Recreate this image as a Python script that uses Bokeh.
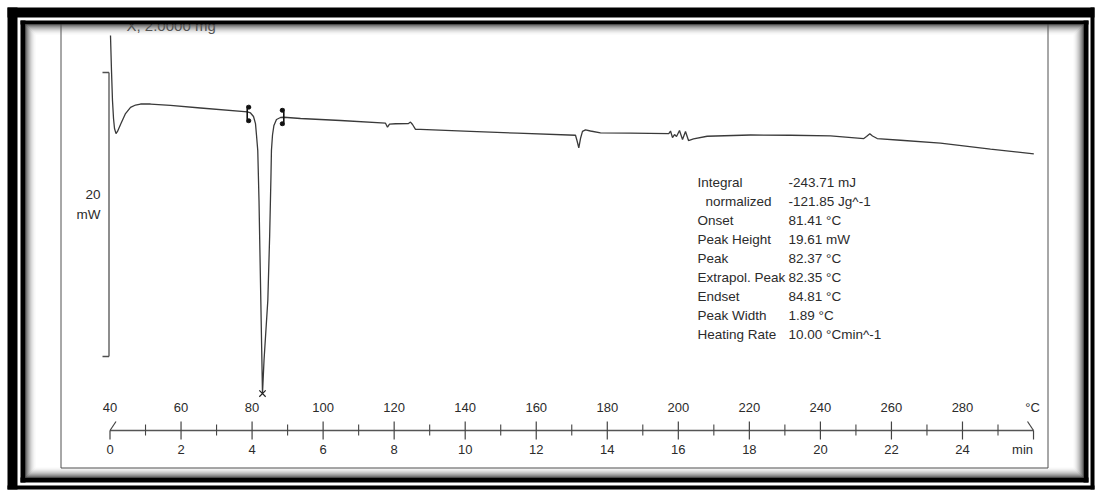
from bokeh.plotting import figure
from bokeh.models import Range1d
from bokeh.core.properties import value
from bokeh.embed import file_html
from bokeh.resources import INLINE

# ---------------- data ----------------
temp_c = [40.14, 40.42, 40.70, 40.99, 41.27, 41.69, 42.11, 42.96, 44.37, 45.78,
          47.19, 48.59, 51.40, 57.03, 65.48, 78.71, 79.56, 80.40, 80.96, 81.24,
          81.60, 81.95, 82.20, 82.46, 82.70, 82.93, 83.36, 84.43, 84.95, 85.30,
          85.45, 85.75, 86.15, 86.87, 88.00, 88.93, 93.64, 104.90, 117.56, 118.12,
          118.69, 120.38, 124.04, 124.60, 125.17, 126.01, 127.42, 141.50, 154.64, 171.05,
          171.47, 171.98, 172.46, 173.02, 173.86, 175.27, 178.09, 186.54, 197.32, 197.80,
          198.36, 198.93, 199.49, 200.33, 201.18, 202.02, 202.87, 204.28, 208.13, 220.32,
          231.58, 242.84, 252.22, 252.98, 253.91, 254.67, 255.99, 262.55, 273.81, 287.89,
          300.08]
heat_flow_mw = [22.61, 20.14, 18.03, 16.76, 16.06, 15.70, 15.85, 16.34, 17.11, 17.54,
                17.71, 17.78, 17.78, 17.68, 17.50, 17.22, 17.15, 16.90, 16.40, 15.60,
                14.51, 10.99, 7.50, 3.94, 0.60, -2.61, -0.28, 3.94, 8.50, 12.50,
                14.51, 15.60, 16.27, 16.69, 16.83, 16.85, 16.76, 16.62, 16.43, 16.15,
                16.37, 16.39, 16.41, 16.51, 16.34, 15.99, 15.99, 15.85, 15.73, 15.58,
                15.21, 14.70, 15.35, 15.85, 15.96, 15.88, 15.75, 15.73, 15.70, 15.88,
                15.42, 15.63, 15.49, 15.92, 15.28, 15.85, 15.21, 15.32, 15.51, 15.60,
                15.58, 15.53, 15.35, 15.49, 15.68, 15.53, 15.35, 15.23, 15.02, 14.61,
                14.27]

peak_temp = 82.93
peak_mw = -2.61
limit_temps = [78.63, 88.93]
limit_low = [16.48, 16.27]
limit_high = [17.68, 17.46]

major_temps = [40, 60, 80, 100, 120, 140, 160, 180, 200, 220, 240, 260, 280]
minor_temps = [50, 70, 90, 110, 130, 150, 170, 190, 210, 230, 250, 270, 290]
temp_labels = ["40", "60", "80", "100", "120", "140", "160", "180", "200", "220", "240", "260", "280"]
minute_labels = ["0", "2", "4", "6", "8", "10", "12", "14", "16", "18", "20", "22", "24"]
axis_start, axis_end = 40, 300
scale_bar = [0, 20]
scale_labels = ["20", "mW"]
sample_label = "X, 2.0000 mg"

stat_names = ["Integral", "normalized", "Onset", "Peak Height", "Peak",
              "Extrapol. Peak", "Endset", "Peak Width", "Heating Rate"]
stat_values = ["-243.71 mJ", "-121.85 Jg^-1", "81.41 °C", "19.61 mW", "82.37 °C",
               "82.35 °C", "84.81 °C", "1.89 °C", "10.00 °Cmin^-1"]

# ---------------- page geometry ----------------
W, H = 1096, 491
XPX, YPX = 3.552, 14.2          # pixels per °C, pixels per mW
x0 = 40 - 109.5 / XPX
x1 = x0 + W / XPX
y1 = 356 / YPX
y0 = y1 - H / YPX


def X(px):
    return x0 + px / XPX


def Y(py):
    return y1 - py / YPX


FONT = value("Liberation Sans")
TXT = "#2b2b2b"

p = figure(width=W, height=H, x_range=Range1d(x0, x1), y_range=Range1d(y0, y1),
           output_backend="svg", toolbar_location=None, min_border=0,
           x_axis_type=None, y_axis_type=None, outline_line_color=None,
           background_fill_color="white", border_fill_color="white")
p.grid.visible = False

# bevel gradient inside the inner black line
shades = ["#333333", "#555555", "#747474", "#909090", "#a9a9a9",
          "#bfbfbf", "#d2d2d2", "#e2e2e2", "#eeeeee", "#f8f8f8"]
for i, c in enumerate(shades):
    p.quad(left=X(25 + i + 0.5), right=X(1083 - i - 0.5), top=Y(24 + i + 0.5),
           bottom=Y(477 - i - 0.5), fill_alpha=0, line_color=c, line_width=1)

# inner panel border
p.segment(x0=[X(60.5), X(1047.5), X(60.5)], y0=[Y(24), Y(24), Y(467.5)],
          x1=[X(60.5), X(1047.5), X(1047.5)], y1=[Y(467.5), Y(467.5), Y(467.5)],
          line_color="#505050", line_width=1)

# curve
p.line(temp_c, heat_flow_mw, line_color="#3a3a3a", line_width=1.3)

# peak marker
p.scatter([peak_temp], [peak_mw], marker="x", size=9, line_color="#222222", line_width=1.2)

# integration limits
p.segment(x0=limit_temps, y0=limit_low, x1=limit_temps, y1=limit_high,
          line_color="#111111", line_width=1.6)
dx = 1.6 / XPX
p.scatter([limit_temps[0] + dx, limit_temps[0] + dx, limit_temps[1] - dx, limit_temps[1] - dx],
          [limit_high[0] - 0.12, limit_low[0] + 0.12, limit_high[1] - 0.12, limit_low[1] + 0.12],
          marker="circle", size=4, fill_color="#111111", line_color="#111111")

# scale bar (20 mW)
bar_x = X(108.5)
p.segment(x0=[bar_x, X(102), X(102)], y0=[scale_bar[0], scale_bar[1], scale_bar[0]],
          x1=[bar_x, bar_x, bar_x], y1=[scale_bar[1], scale_bar[1], scale_bar[0]],
          line_color="#505050", line_width=1.3)
p.text([X(100), X(100)], [Y(194), Y(214)], text=scale_labels, text_align="right",
       text_baseline="middle", text_font=FONT, text_font_size="13.5px", text_color=TXT)

# temperature / time axis
ax_y = Y(430)
p.segment(x0=[axis_start], y0=[ax_y], x1=[axis_end], y1=[ax_y], line_color="#555555", line_width=1.3)
p.segment(x0=major_temps[1:], y0=[Y(421)] * (len(major_temps) - 1),
          x1=major_temps[1:], y1=[Y(439)] * (len(major_temps) - 1),
          line_color="#444444", line_width=1.2)
p.segment(x0=minor_temps, y0=[Y(424)] * len(minor_temps),
          x1=minor_temps, y1=[Y(435)] * len(minor_temps),
          line_color="#444444", line_width=1.1)
# end marks
d = 6 / XPX
p.segment(x0=[axis_start, axis_start, axis_end, axis_end],
          y0=[ax_y, ax_y, ax_y, ax_y],
          x1=[axis_start, axis_start + d, axis_end, axis_end - d],
          y1=[Y(439), Y(421), Y(439), Y(421)],
          line_color="#444444", line_width=1.2)
p.text(major_temps, [Y(407)] * len(major_temps), text=temp_labels, text_align="center",
       text_baseline="middle", text_font=FONT, text_font_size="13px", text_color=TXT)
p.text(major_temps, [Y(449)] * len(major_temps), text=minute_labels, text_align="center",
       text_baseline="middle", text_font=FONT, text_font_size="13px", text_color=TXT)
p.text([axis_end - 1.0 / XPX], [Y(407)], text=["°C"], text_align="center",
       text_baseline="middle", text_font=FONT, text_font_size="13px", text_color=TXT)
p.text([axis_end - 11 / XPX], [Y(449)], text=["min"], text_align="center",
       text_baseline="middle", text_font=FONT, text_font_size="13px", text_color=TXT)

# results block
row0, step = 181.7, 19.05
name_x = [X(697)] * len(stat_names)
name_x[1] = X(705)
rows = [Y(row0 + step * i) for i in range(len(stat_names))]
p.text(name_x, rows, text=stat_names, text_align="left", text_baseline="middle",
       text_font=FONT, text_font_size="13.5px", text_color=TXT)
p.text([X(788)] * len(stat_values), rows, text=stat_values, text_align="left",
       text_baseline="middle", text_font=FONT, text_font_size="13.5px", text_color=TXT)

# sample label, partly hidden by the frame
p.text([X(126)], [Y(24.5)], text=[sample_label], text_align="left", text_baseline="alphabetic",
       text_font=FONT, text_font_size="15px", text_color="#555555")

# white gap between the frame lines (hides the top of the sample label)
p.quad(left=[X(17)], right=[X(1090)], top=[Y(17)], bottom=[Y(20)], fill_color="white", line_color=None)

# black frame lines
blk = dict(fill_color="black", line_color=None)
# inner thin line
p.quad(left=[X(20), X(20), X(20), X(1083)], right=[X(1088), X(25), X(1088), X(1088)],
       top=[Y(20), Y(20), Y(477), Y(20)], bottom=[Y(24), Y(482), Y(482), Y(482)], **blk)
# outer thick line
p.quad(left=[X(7), X(7), X(7), X(1090)], right=[X(1094), X(17), X(1094), X(1094)],
       top=[Y(7), Y(7), Y(485), Y(7)], bottom=[Y(17), Y(489), Y(489), Y(489)], **blk)

open("out.html", "w").write(file_html(p, INLINE))
